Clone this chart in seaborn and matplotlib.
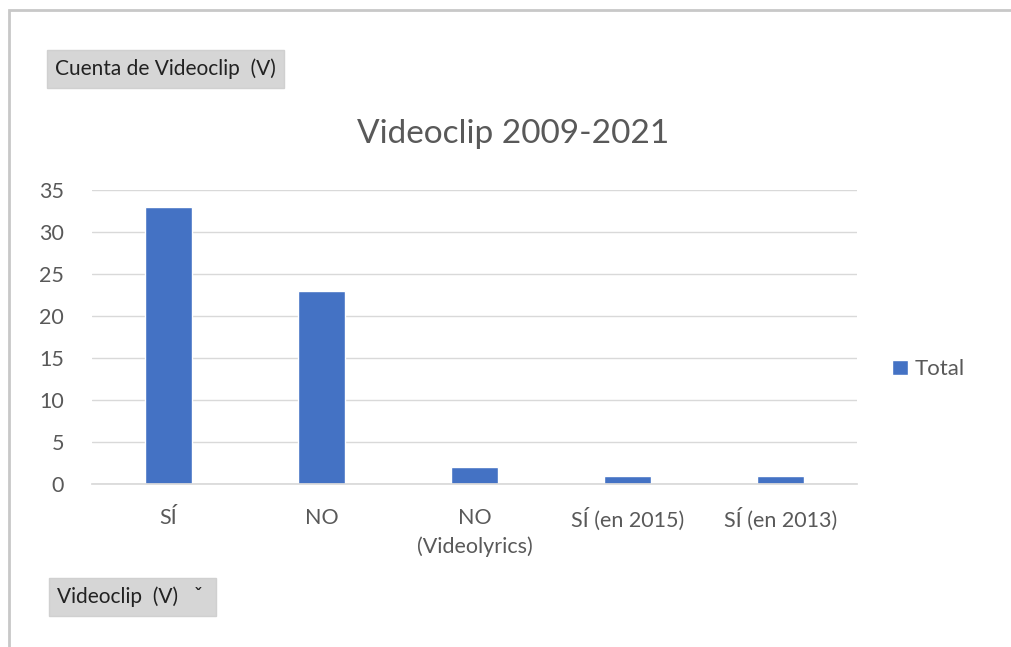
import matplotlib.pyplot as plt
import pandas as pd
import seaborn as sns
from matplotlib.patches import Rectangle

categorias = ["SÍ", "NO", "NO\n(Videolyrics)", "SÍ (en 2015)", "SÍ (en 2013)"]
cuenta = [33, 23, 2, 1, 1]
serie = ["Total"] * len(categorias)
yticks = [0, 5, 10, 15, 20, 25, 30, 35]

df = pd.DataFrame({"cat": categorias, "valor": cuenta, "serie": serie})

sns.set_theme(style="white")
plt.rcParams["font.family"] = ["Lato", "DejaVu Sans"]

gris = "#595959"
azul = "#4472C4"

fig = plt.figure(figsize=(10.11, 6.47), dpi=100)
ax = fig.add_axes([92 / 1011, 1 - 484 / 647, 765 / 1011, 294 / 647])

sns.barplot(data=df, x="cat", y="valor", hue="serie", palette=[azul],
            width=0.31, ax=ax, saturation=1)

ax.set_ylim(0, 35)
ax.set_yticks(yticks)
ax.set_xlim(-0.5, 4.5)
ax.yaxis.grid(True, color="#D9D9D9", linewidth=1)
ax.set_axisbelow(True)
for s in ["top", "right", "left"]:
    ax.spines[s].set_visible(False)
ax.spines["bottom"].set_color("#D9D9D9")
ax.tick_params(axis="both", colors=gris, labelsize=15.5, length=0)
ax.tick_params(axis="y", pad=20)
ax.tick_params(axis="x", pad=17)
for t in ax.get_xticklabels():
    t.set_linespacing(1.5)
ax.set_xlabel("")
ax.set_ylabel("")

leg = ax.legend(loc="center left", bbox_to_anchor=(1.02, 0.39), frameon=False,
                handlelength=0.7, handleheight=0.7, handletextpad=0.3,
                fontsize=16, labelcolor=gris)

fig.text(513 / 1011, 1 - 134 / 647, "Videoclip 2009-2021", ha="center",
         va="center", fontsize=24, color=gris)

# marco de la hoja
fig.patches.append(Rectangle((9 / 1011, -0.01), 1.02, 1 - 10 / 647 + 0.01,
                             transform=fig.transFigure, fill=False,
                             edgecolor="#C8C8C8", linewidth=2))

# botones de la tabla dinamica
fig.text(55 / 1011, 1 - 69 / 647, "Cuenta de Videoclip  (V)", ha="left",
         va="center", fontsize=15, color="#222222",
         bbox=dict(boxstyle="square,pad=0.4", facecolor="#D6D6D6", edgecolor="#D0D0D0"))
fig.text(57 / 1011, 1 - 597 / 647, "Videoclip  (V)   \u02c7 ", ha="left",
         va="center", fontsize=15, color="#222222",
         bbox=dict(boxstyle="square,pad=0.4", facecolor="#D6D6D6", edgecolor="#D0D0D0"))

fig.savefig("out.png", dpi=100, facecolor="white")
